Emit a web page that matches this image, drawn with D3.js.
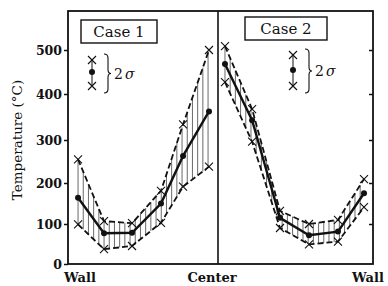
<!DOCTYPE html>
<html>
<head>
<meta charset="utf-8">
<script src="https://cdn.jsdelivr.net/npm/d3@7"></script>
<style>
  body { margin: 0; background: #fff; }
  text { font-family: "DejaVu Serif", serif; fill: #111; }
</style>
</head>
<body>
<div id="chart"></div>
<script>
// y ticks
const yTicks = [0, 100, 200, 300, 400, 500];

// Case 1: wall (0) -> center (1)
const pos1 = [0.067, 0.24, 0.427, 0.62, 0.767, 0.94];
const mean1 = [164, 77, 78, 150, 263, 362];
const upper1 = [255, 107, 102, 181, 334, 500];
const lower1 = [99, 37, 45, 103, 191, 238];

// Case 2: center (0) -> wall (1)
const pos2 = [0.045, 0.22, 0.40, 0.587, 0.774, 0.942];
const mean2 = [468, 343, 115, 72, 81, 175];
const upper2 = [509, 367, 132, 100, 110, 209];
const lower2 = [427, 296, 90, 49, 56, 141];

const width = 388, height = 286;
const pLeft = 68, pRight = 373, pTop = 11, pBottom = 264, pMid = 218;

const svg = d3.select("#chart").append("svg")
    .attr("width", width)
    .attr("height", height);

// scanned axis is a little uneven, so the scale follows the printed ticks
const y = d3.scaleLinear()
    .domain(yTicks)
    .range([264, 224, 183, 140, 94, 50]);

const x1 = d3.scaleLinear().domain([0, 1]).range([pLeft, pMid]);
const x2 = d3.scaleLinear().domain([0, 1]).range([pMid, pRight]);

// frame
svg.append("rect")
    .attr("x", pLeft).attr("y", pTop)
    .attr("width", pRight - pLeft).attr("height", pBottom - pTop)
    .attr("fill", "none").attr("stroke", "#111").attr("stroke-width", 1.8);
svg.append("line")
    .attr("x1", pMid).attr("x2", pMid).attr("y1", pTop).attr("y2", pBottom)
    .attr("stroke", "#111").attr("stroke-width", 1.6);

// left axis, outward ticks
const yAxis = d3.axisLeft(y).tickValues(yTicks).tickSize(4).tickPadding(2);
const gy = svg.append("g").attr("transform", `translate(${pLeft},0)`).call(yAxis);
gy.select(".domain").remove();
gy.selectAll(".tick line").attr("stroke", "#111").attr("stroke-width", 1.5);
gy.selectAll(".tick text")
    .style("font-family", "DejaVu Serif")
    .style("font-size", "12.5px")
    .style("font-weight", "bold")
    .attr("fill", "#111");

// right axis, inward ticks
const gr = svg.append("g").attr("transform", `translate(${pRight},0)`)
    .call(d3.axisLeft(y).tickValues(yTicks.slice(1)).tickSize(4).tickFormat(""));
gr.select(".domain").remove();
gr.selectAll(".tick line").attr("stroke", "#111").attr("stroke-width", 1.5);

// y label
svg.append("text")
    .attr("transform", "translate(22,140) rotate(-90)")
    .attr("text-anchor", "middle")
    .style("font-size", "13.5px")
    .text("Temperature (°C)");

// x labels
const xLabels = [
    { t: "Wall", x: 80 },
    { t: "Center", x: 212 },
    { t: "Wall", x: 368 }
];
svg.selectAll(".xl").data(xLabels).enter().append("text")
    .attr("x", d => d.x).attr("y", 282)
    .attr("text-anchor", "middle")
    .style("font-size", "13px")
    .style("font-weight", "bold")
    .text(d => d.t);

function drawCase(pos, mean, upper, lower, xs) {
    const g = svg.append("g");

    // vertical hatching between the 2 sigma curves
    const px = pos.map(p => xs(p));
    const step = 5.2;
    for (let hx = px[0]; hx <= px[px.length - 1] + 0.1; hx += step) {
        let i = 0;
        while (i < px.length - 2 && hx > px[i + 1]) i++;
        const t = (hx - px[i]) / (px[i + 1] - px[i]);
        const yu = y(upper[i]) + t * (y(upper[i + 1]) - y(upper[i]));
        const yl = y(lower[i]) + t * (y(lower[i + 1]) - y(lower[i]));
        g.append("line")
            .attr("x1", hx).attr("x2", hx).attr("y1", yu).attr("y2", yl)
            .attr("stroke", "#444").attr("stroke-width", 0.8);
    }

    const line = d3.line().x(d => xs(d[0])).y(d => y(d[1]));

    [upper, lower].forEach(arr => {
        g.append("path")
            .attr("d", line(pos.map((p, i) => [p, arr[i]])))
            .attr("fill", "none").attr("stroke", "#111")
            .attr("stroke-width", 1.8).attr("stroke-dasharray", "6,3");
    });

    g.append("path")
        .attr("d", line(pos.map((p, i) => [p, mean[i]])))
        .attr("fill", "none").attr("stroke", "#111").attr("stroke-width", 2.4);

    g.selectAll(".dot").data(mean).enter().append("circle")
        .attr("cx", (d, i) => xs(pos[i])).attr("cy", d => y(d))
        .attr("r", 3).attr("fill", "#111");

    [upper, lower].forEach(arr => {
        g.selectAll(null).data(arr).enter().append("path")
            .attr("d", "M-4,-4L4,4M-4,4L4,-4")
            .attr("transform", (d, i) => `translate(${xs(pos[i])},${y(d)})`)
            .attr("stroke", "#111").attr("stroke-width", 1.1).attr("fill", "none");
    });
}

drawCase(pos1, mean1, upper1, lower1, x1);
drawCase(pos2, mean2, upper2, lower2, x2);

// case boxes and 2 sigma legends
const cases = [
    { label: "Case 1", bx: 81, by: 20, bw: 76, bh: 23, lx: 92, ly: [60, 72, 86], brace: 104 },
    { label: "Case 2", bx: 245, by: 17, bw: 82, bh: 23, lx: 293, ly: [55, 70, 86], brace: 305 }
];

cases.forEach(c => {
    svg.append("rect")
        .attr("x", c.bx).attr("y", c.by).attr("width", c.bw).attr("height", c.bh)
        .attr("fill", "#fff").attr("stroke", "#111").attr("stroke-width", 1.4);
    svg.append("text")
        .attr("x", c.bx + c.bw / 2).attr("y", c.by + c.bh / 2 + 5.5)
        .attr("text-anchor", "middle")
        .style("font-size", "15px")
        .text(c.label);

    svg.append("line")
        .attr("x1", c.lx).attr("x2", c.lx).attr("y1", c.ly[0]).attr("y2", c.ly[2])
        .attr("stroke", "#111").attr("stroke-width", 1);
    [c.ly[0], c.ly[2]].forEach(yy => {
        svg.append("path")
            .attr("d", "M-4,-4L4,4M-4,4L4,-4")
            .attr("transform", `translate(${c.lx},${yy})`)
            .attr("stroke", "#111").attr("stroke-width", 1.1).attr("fill", "none");
    });
    svg.append("circle").attr("cx", c.lx).attr("cy", c.ly[1]).attr("r", 3).attr("fill", "#111");

    const b = c.brace, y0 = c.ly[0] - 6, y1 = c.ly[2] + 7, ym = (y0 + y1) / 2;
    svg.append("path")
        .attr("d", `M${b},${y0} Q${b + 4},${y0} ${b + 4},${y0 + 4} L${b + 4},${ym - 4} Q${b + 4},${ym} ${b + 7},${ym}` +
                   ` Q${b + 4},${ym} ${b + 4},${ym + 4} L${b + 4},${y1 - 4} Q${b + 4},${y1} ${b},${y1}`)
        .attr("fill", "none").attr("stroke", "#111").attr("stroke-width", 1.1);

    const t = svg.append("text")
        .attr("x", b + 10).attr("y", ym + 5)
        .style("font-size", "14px");
    t.append("tspan").text("2");
    t.append("tspan").attr("dx", 2).style("font-style", "italic").text("σ");
});
</script>
</body>
</html>
